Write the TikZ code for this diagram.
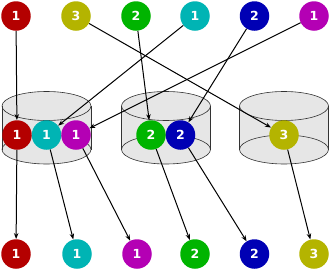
\documentclass[tikz,border=0pt]{standalone}
\usepackage{fontspec}
\setmainfont{DejaVu Sans}
\usetikzlibrary{arrows.meta}
\pgfdeclarelayer{bg}
\pgfdeclarelayer{mid}
\pgfsetlayers{bg,mid,main}
\definecolor{cred}{HTML}{B40000}
\definecolor{colive}{HTML}{B4B400}
\definecolor{cgreen}{HTML}{00B400}
\definecolor{ccyan}{HTML}{00B4B4}
\definecolor{cblue}{HTML}{0000B4}
\definecolor{cmag}{HTML}{B400B4}
\definecolor{cylfill}{HTML}{E6E6E6}
\definecolor{cylline}{HTML}{333333}
\tikzset{
  ball/.style={circle, fill=#1, minimum size=29.5pt, inner sep=0pt, text=white,
    font=\fontsize{12.5}{13}\selectfont\bfseries},
  conn/.style={line width=1pt, -{Stealth[length=6pt,width=4.5pt]}},
  cylline/.style={draw=cylline, line width=0.6pt}
}
\newcommand{\drawcyl}[1]{%
  \fill[cylfill] (#1,106) ellipse [x radius=44.5pt, y radius=14.5pt];
  \fill[cylfill] (#1-44.5,106) rectangle (#1+44.5,149.5);
  \fill[cylfill] (#1,149.5) ellipse [x radius=44.5pt, y radius=14.5pt];
  \draw[cylline] (#1,106) ellipse [x radius=44.5pt, y radius=14.5pt];
  \draw[cylline] (#1,149.5) ellipse [x radius=44.5pt, y radius=14.5pt];
  \draw[cylline] (#1-44.5,106) -- (#1-44.5,149.5);
  \draw[cylline] (#1+44.5,106) -- (#1+44.5,149.5);
}
\begin{document}
\begin{tikzpicture}[x=1pt,y=-1pt]
\useasboundingbox (0,0) rectangle (330,271);
\begin{pgfonlayer}{bg}
  \drawcyl{46.5}
  \drawcyl{166}
  \drawcyl{284}
\end{pgfonlayer}
% top row
\node[ball=cred]   (t1) at (16,16)  {1};
\node[ball=colive] (t2) at (76,16)  {3};
\node[ball=cgreen] (t3) at (136,16) {2};
\node[ball=ccyan]  (t4) at (195,16) {1};
\node[ball=cblue]  (t5) at (254.5,16) {2};
\node[ball=cmag]   (t6) at (314,16) {1};
% middle row
\node[ball=cred]   (m1) at (17,135)  {1};
\node[ball=ccyan]  (m2) at (46.5,135) {1};
\node[ball=cmag]   (m3) at (76,135)  {1};
\node[ball=cgreen] (m4) at (151,135) {2};
\node[ball=cblue]  (m5) at (180.5,135) {2};
\node[ball=colive] (m6) at (284,135) {3};
% bottom row
\node[ball=cred]   (b1) at (16,254)  {1};
\node[ball=ccyan]  (b2) at (77,254)  {1};
\node[ball=cmag]   (b3) at (137,254) {1};
\node[ball=cgreen] (b4) at (195,254) {2};
\node[ball=cblue]  (b5) at (254.5,254) {2};
\node[ball=colive] (b6) at (314,254) {3};
\begin{pgfonlayer}{mid}
  \draw[conn] (t1) -- (m1);
  \draw[conn] (t2) -- (m6);
  \draw[conn] (t3) -- (m4);
  \draw[conn] (t4) -- (m2);
  \draw[conn] (t5) -- (m5);
  \draw[conn] (t6) -- (m3);
  \draw[conn] (m1) -- (b1);
  \draw[conn] (m2) -- (b2);
  \draw[conn] (m3) -- (b3);
  \draw[conn] (m4) -- (b4);
  \draw[conn] (m5) -- (b5);
  \draw[conn] (m6) -- (b6);
\end{pgfonlayer}
\end{tikzpicture}
\end{document}
